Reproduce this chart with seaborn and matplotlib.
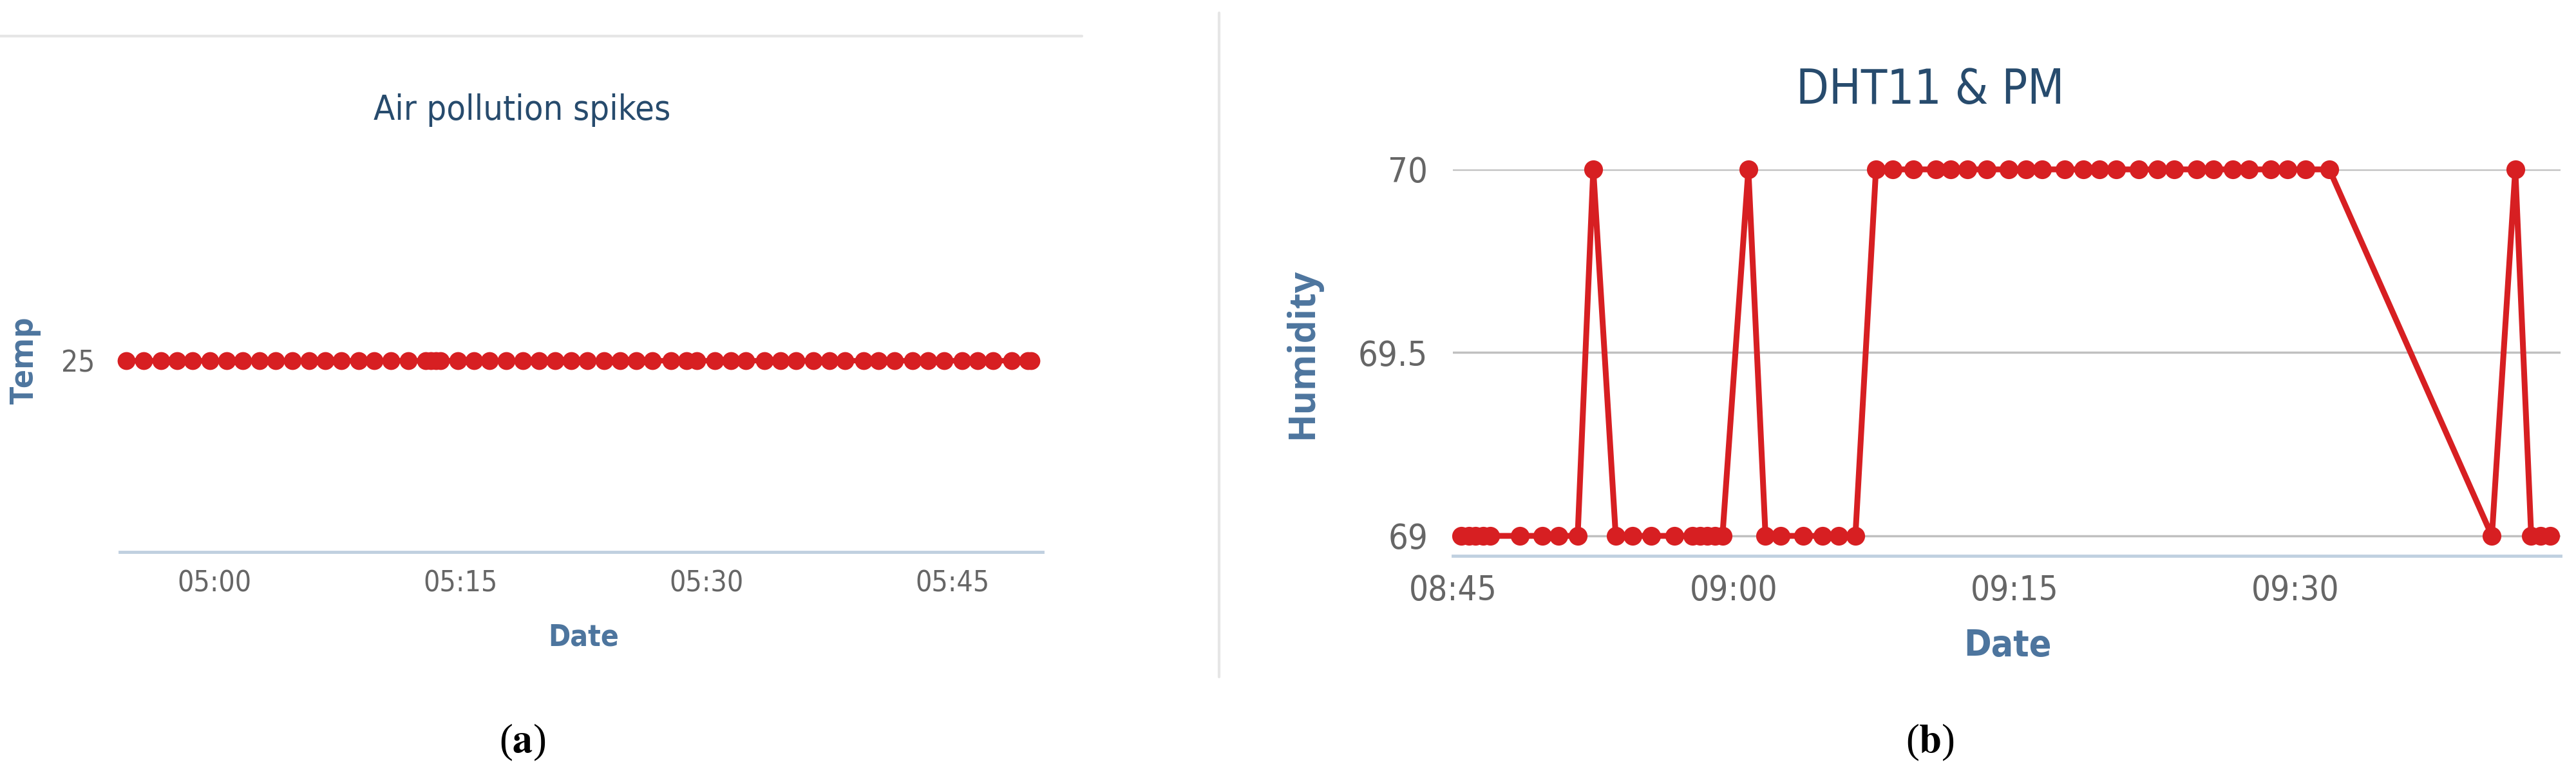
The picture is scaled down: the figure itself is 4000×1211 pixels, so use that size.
import pandas as pd
import matplotlib
matplotlib.use("Agg")
import matplotlib.pyplot as plt
import matplotlib.dates as mdates
from matplotlib.lines import Line2D
from matplotlib.ticker import FuncFormatter
import seaborn as sns

# --- (a) Air pollution spikes: temperature readings ---
temp_times = [
    "04:54:38", "04:55:40", "04:56:44", "04:57:44", "04:58:41", "04:59:45",
    "05:00:46", "05:01:43", "05:02:46", "05:03:45", "05:04:45", "05:05:46",
    "05:06:46", "05:07:44", "05:08:47", "05:09:45", "05:10:46", "05:11:50",
    "05:12:54", "05:13:12", "05:13:30", "05:13:48", "05:14:52", "05:15:49",
    "05:16:46", "05:17:48", "05:18:48", "05:19:48", "05:20:46", "05:21:46",
    "05:22:44", "05:23:45", "05:24:45", "05:25:43", "05:26:42", "05:27:50",
    "05:28:47", "05:29:26", "05:30:31", "05:31:30", "05:32:25", "05:33:32",
    "05:34:30", "05:35:27", "05:36:32", "05:37:31", "05:38:27", "05:39:34",
    "05:40:30", "05:41:29", "05:42:34", "05:43:30", "05:44:29", "05:45:35",
    "05:46:32", "05:47:28", "05:48:36", "05:49:36", "05:49:48",
]
temp_values = [
    25, 25, 25, 25, 25, 25, 25, 25, 25, 25, 25, 25,
    25, 25, 25, 25, 25, 25, 25, 25, 25, 25, 25, 25,
    25, 25, 25, 25, 25, 25, 25, 25, 25, 25, 25, 25,
    25, 25, 25, 25, 25, 25, 25, 25, 25, 25, 25, 25,
    25, 25, 25, 25, 25, 25, 25, 25, 25, 25, 25,
]
temp_ticks = ["05:00", "05:15", "05:30", "05:45"]
temp_yticks = [25]

# --- (b) DHT11 & PM: humidity readings ---
hum_times = [
    "08:45:27", "08:45:51", "08:46:12", "08:46:36", "08:47:00", "08:48:34",
    "08:49:46", "08:50:38", "08:51:40", "08:52:30", "08:53:42", "08:54:36",
    "08:55:36", "08:56:51", "08:57:48", "08:58:12", "08:58:36", "08:59:00",
    "08:59:24", "09:00:47", "09:01:42", "09:02:30", "09:03:42", "09:04:45",
    "09:05:36", "09:06:30", "09:07:36", "09:08:30", "09:09:36", "09:10:48",
    "09:11:36", "09:12:30", "09:13:32", "09:14:42", "09:15:37", "09:16:28",
    "09:17:41", "09:18:40", "09:19:32", "09:20:25", "09:21:38", "09:22:37",
    "09:23:32", "09:24:44", "09:25:37", "09:26:40", "09:27:32", "09:28:42",
    "09:29:34", "09:30:33", "09:31:49", "09:40:30", "09:41:45", "09:42:36",
    "09:43:06", "09:43:36",
]
hum_values = [
    69, 69, 69, 69, 69, 69,
    69, 69, 69, 70, 69, 69,
    69, 69, 69, 69, 69, 69,
    69, 70, 69, 69, 69, 69,
    69, 69, 70, 70, 70, 70,
    70, 70, 70, 70, 70, 70,
    70, 70, 70, 70, 70, 70,
    70, 70, 70, 70, 70, 70,
    70, 70, 70, 69, 70, 69,
    69, 69,
]
hum_ticks = ["08:45", "09:00", "09:15", "09:30"]
hum_yticks = [69, 69.5, 70]

DAY = "2020-01-01 "
RED = "#d71f22"
TITLE = "#274b6d"
AXIS_TITLE = "#4d759e"
TICK_LABEL = "#666666"
GRID = "#c0c0c0"
AXIS_LINE = "#c0d0e0"

sns.set_style("white")
plt.rcParams["font.family"] = ["DejaVu Sans"]
plt.rcParams["font.stretch"] = "condensed"
plt.rcParams["mathtext.fontset"] = "stix"

temp_df = pd.DataFrame({"Date": pd.to_datetime([DAY + t for t in temp_times]),
                        "Temp": temp_values})
hum_df = pd.DataFrame({"Date": pd.to_datetime([DAY + t for t in hum_times]),
                       "Humidity": hum_values})

W, H = 4000, 1211
fig = plt.figure(figsize=(W / 100, H / 100), dpi=100)


def box(x0, y0, x1, y1):
    # pixel box (top-left origin) -> figure fraction rect
    return [x0 / W, 1 - y1 / H, (x1 - x0) / W, (y1 - y0) / H]


ax_a = fig.add_axes(box(186, 263, 1619, 857))
ax_b = fig.add_axes(box(2256, 263, 3976, 863))

sns.lineplot(data=temp_df, x="Date", y="Temp", ax=ax_a, color=RED,
             linewidth=6, marker="o", markersize=20, markeredgewidth=0,
             clip_on=False)
sns.lineplot(data=hum_df, x="Date", y="Humidity", ax=ax_b, color=RED,
             linewidth=6.5, marker="o", markersize=21, markeredgewidth=0,
             clip_on=False)

ax_a.set_xlim(pd.Timestamp(DAY + "04:54:14"), pd.Timestamp(DAY + "05:50:30"))
ax_a.set_ylim(24, 26)
ax_a.set_yticks(temp_yticks)
ax_b.set_xlim(pd.Timestamp(DAY + "08:45:00"), pd.Timestamp(DAY + "09:44:10"))
ax_b.set_ylim(68.9455, 70)
ax_b.set_yticks(hum_yticks)
ax_b.yaxis.set_major_formatter(FuncFormatter(lambda v, p: f"{v:g}"))

for ax, ticks, fs in [(ax_a, temp_ticks, 32), (ax_b, hum_ticks, 38)]:
    ax.set_xticks([pd.Timestamp(DAY + t) for t in ticks])
    ax.xaxis.set_major_formatter(mdates.DateFormatter("%H:%M"))
    ax.set_xlabel("")
    ax.set_ylabel("")
    for side in ["top", "right", "left"]:
        ax.spines[side].set_visible(False)
    ax.spines["bottom"].set_color(AXIS_LINE)
    ax.spines["bottom"].set_linewidth(3.5)
    ax.tick_params(axis="x", direction="out", length=14, width=1.5,
                   color=AXIS_LINE, pad=6, labelsize=fs, labelcolor=TICK_LABEL)
    ax.tick_params(axis="y", length=0, pad=28, labelsize=fs + 1,
                   labelcolor=TICK_LABEL)
    ax.set_facecolor("none")

ax_b.yaxis.grid(True, color=GRID, linewidth=2.5)
ax_b.set_axisbelow(True)

# titles and axis titles
fig.text(811 / W, 1 - 171 / H, "Air pollution spikes", ha="center", va="center",
         fontsize=39, color=TITLE)
fig.text(2997 / W, 1 - 140 / H, "DHT11 & PM", ha="center", va="center",
         fontsize=53, color=TITLE)
fig.text(906 / W, 1 - 990 / H, "Date", ha="center", va="center",
         fontsize=33, fontweight="bold", color=AXIS_TITLE)
fig.text(3117 / W, 1 - 1003 / H, "Date", ha="center", va="center",
         fontsize=41, fontweight="bold", color=AXIS_TITLE)
fig.text(38 / W, 1 - 559 / H, "Temp", ha="center", va="center", rotation=90,
         fontsize=36, fontweight="bold", color=AXIS_TITLE, family="Open Sans",
         fontstretch="normal")
fig.text(2023 / W, 1 - 548 / H, "Humidity", ha="center", va="center",
         rotation=90, fontsize=41, fontweight="bold", color=AXIS_TITLE,
         family="Open Sans", fontstretch="normal")

# panel labels
for xc, letter in [(811, "a"), (2997, "b")]:
    fig.text(xc / W, 1 - 1153 / H, "(" + r"$\mathbf{" + letter + "}$" + ")",
             ha="center", va="center", fontsize=45, family="Liberation Serif",
             fontstretch="normal", color="black")

# frame lines from the original dashboard screenshot
fig.add_artist(Line2D([0, 1680 / W], [1 - 56 / H, 1 - 56 / H],
                      color="#e6e6e6", linewidth=3))
fig.add_artist(Line2D([1893 / W, 1893 / W], [1 - 20 / H, 1 - 1051 / H],
                      color="#e6e6e6", linewidth=3))

fig.savefig("out.png", dpi=100, facecolor="white")
